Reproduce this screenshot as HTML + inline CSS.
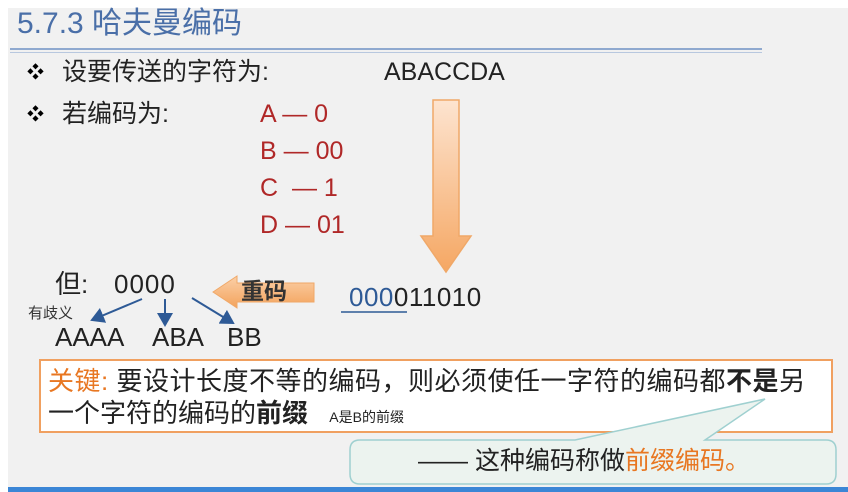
<!DOCTYPE html>
<html><head><meta charset="utf-8"><style>
body{margin:0;width:848px;height:492px;background:#fff;position:relative;overflow:hidden;font-family:"Liberation Sans","Noto Sans CJK SC",sans-serif;}
.bg{position:absolute;left:8px;top:8px;width:840px;height:484px;background:#f1f1f1;}
.t{position:absolute;white-space:nowrap;line-height:1;}
</style></head><body>
<div class="bg"></div>
<div class="t" style="left:17px;top:9px;font-size:30px;color:#4a6fa8;">5.7.3 哈夫曼编码</div>
<div style="position:absolute;left:10px;top:48px;width:752px;height:2px;background:#8fa9cf"></div>
<div style="position:absolute;left:10px;top:52px;width:752px;height:1px;background:#b8c8df"></div>
<div class="t" style="left:27px;top:64px;font-size:17px;">❖</div>
<div class="t" style="left:62px;top:60px;font-size:25px;color:#222">设要传送的字符为:</div>
<div class="t" style="left:384px;top:60px;font-size:25px;color:#222">ABACCDA</div>
<div class="t" style="left:27px;top:106px;font-size:17px;">❖</div>
<div class="t" style="left:62px;top:102px;font-size:25px;color:#222">若编码为:</div>
<div class="t" style="left:260px;top:102px;font-size:25px;color:#b02828">A — 0</div>
<div class="t" style="left:260px;top:139px;font-size:25px;color:#b02828">B — 00</div>
<div class="t" style="left:260px;top:176px;font-size:25px;color:#b02828">C &nbsp;— 1</div>
<div class="t" style="left:260px;top:213px;font-size:25px;color:#b02828">D — 01</div>
<svg style="position:absolute;left:0;top:0" width="848" height="492">
<defs><linearGradient id="g" x1="0" y1="0" x2="0" y2="1"><stop offset="0" stop-color="#fde4d0"/><stop offset="1" stop-color="#f5a763"/></linearGradient>
<linearGradient id="g2" x1="0" y1="0" x2="0" y2="1"><stop offset="0" stop-color="#fbd0a8"/><stop offset="1" stop-color="#f3a35c"/></linearGradient>
<marker id="m" markerWidth="8" markerHeight="8" refX="6" refY="4" orient="auto"><path d="M0,0L7,4L0,8z" fill="#2e5a96"/></marker></defs>
<path d="M433,100H459V236H471L446,272L421,236H433Z" fill="url(#g)" stroke="#f0a868" stroke-width="1.5"/>
<path d="M213,292L237,276V283H314V302H237V308Z" fill="url(#g2)" stroke="#f0a868" stroke-width="1"/>
<line x1="142" y1="299" x2="92" y2="320" stroke="#2e5a96" stroke-width="2" marker-end="url(#m)"/>
<line x1="165" y1="299" x2="165" y2="325" stroke="#2e5a96" stroke-width="2" marker-end="url(#m)"/>
<line x1="192" y1="298" x2="233" y2="323" stroke="#2e5a96" stroke-width="2" marker-end="url(#m)"/>
<line x1="341" y1="312" x2="407" y2="312" stroke="#2e5a96" stroke-width="1.5"/>
<rect x="40" y="360" width="792" height="72" fill="#fff" stroke="#f0a060" stroke-width="2"/>
<path d="M360,440H575L765,399L705,440H826Q836,440 836,450V474Q836,484 826,484H360Q350,484 350,474V450Q350,440 360,440Z" fill="#ecf3ef" stroke="#9fd0d0" stroke-width="1.5"/>
<rect x="8" y="487" width="840" height="5" fill="#3b86d6"/>
</svg>
<div class="t" style="left:55px;top:271px;font-size:26px;color:#222">但:</div>
<div class="t" style="left:114px;top:271px;font-size:26px;color:#222;letter-spacing:1px">0000</div>
<div class="t" style="left:241px;top:280px;font-size:23px;font-weight:bold;color:#333">重码</div>
<div class="t" style="left:349px;top:284px;font-size:26px;color:#222;letter-spacing:0.5px"><span style="color:#2e5a96">000</span>011010</div>
<div class="t" style="left:28px;top:306px;font-size:15px;color:#333">有歧义</div>
<div class="t" style="left:55px;top:324px;font-size:26px;color:#222">AAAA</div>
<div class="t" style="left:152px;top:324px;font-size:26px;color:#222">ABA</div>
<div class="t" style="left:227px;top:324px;font-size:26px;color:#222">BB</div>
<div class="t" style="left:48px;top:368px;font-size:26px;color:#222;letter-spacing:0.5px"><span style="color:#e87722">关键:</span> 要设计长度不等的编码，则必须使任一字符的编码都<b>不是</b>另</div>
<div class="t" style="left:48px;top:400px;font-size:26px;color:#222">一个字符的编码的<b>前缀</b> <span style="font-size:14px;margin-left:14px">A是B的前缀</span></div>
<div class="t" style="left:418px;top:449px;font-size:25px;color:#222">—— 这种编码称做<span style="color:#e87722">前缀编码。</span></div>
</body></html>
